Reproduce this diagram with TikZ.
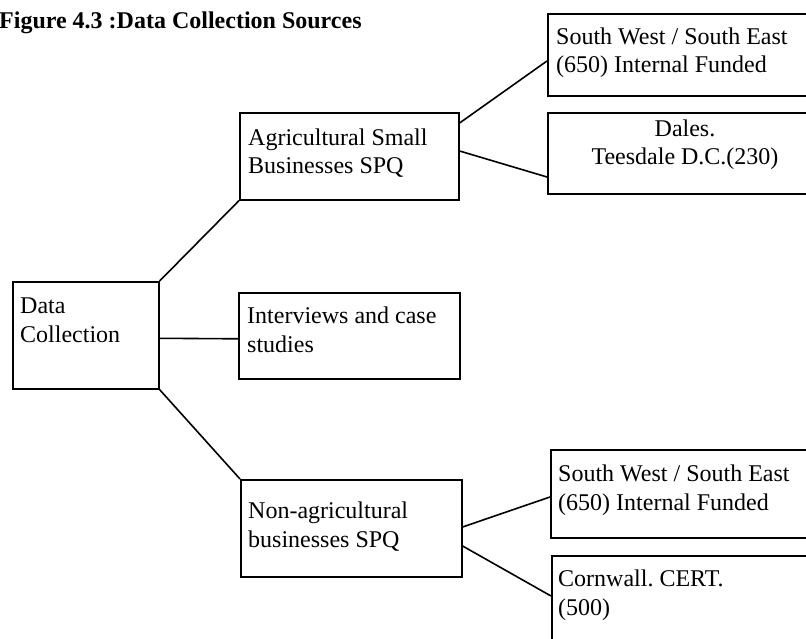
\documentclass[tikz,border=0pt]{standalone}
\usepackage{fontspec}
\setmainfont{Liberation Serif}
\frenchspacing
\begin{document}
\begin{tikzpicture}[x=1pt,y=-1pt,
  font=\fontsize{24}{28.5}\selectfont,
  box/.style={draw, line width=1.6pt, rectangle, inner sep=0pt, anchor=north west},
  lbl/.style={anchor=base west, inner sep=0pt, align=left},
  link/.style={line width=1.6pt}]
\useasboundingbox (0,0) rectangle (806,639);
\clip (0,0) rectangle (806,639);

% caption
\node[anchor=base west, inner sep=0pt, font=\fontsize{24}{28}\selectfont\bfseries]
  (title) at (-1,29) {Figure 4.3 :Data Collection Sources};

% boxes
\node[box, minimum width=146pt, minimum height=107pt] (dc)    at (12,281)  {};
\node[box, minimum width=219pt, minimum height=87pt]  (agri)  at (239,112) {};
\node[box, minimum width=221pt, minimum height=86pt]  (intv)  at (238,292) {};
\node[box, minimum width=221pt, minimum height=97pt]  (nonag) at (240,479) {};
\node[box, minimum width=270pt, minimum height=82pt]  (sw1)   at (547,13)  {};
\node[box, minimum width=270pt, minimum height=81pt]  (dales) at (547,112) {};
\node[box, minimum width=270pt, minimum height=88pt]  (sw2)   at (550,449) {};
\node[box, minimum width=270pt, minimum height=100pt] (corn)  at (551,555) {};

% box texts (positioned by the baseline of their last line)
\node[lbl] (dct)    at (20,342)  {Data\\Collection};
\node[lbl] (agrit)  at (248,174) {Agricultural Small\\Businesses SPQ};
\node[lbl] (intvt)  at (247,352) {Interviews and case\\studies};
\node[lbl] (nonagt) at (248,547) {Non-agricultural\\businesses SPQ};
\node[lbl] (sw1t)   at (556,73)  {South West / South East\\(650) Internal Funded};
\node[anchor=base, inner sep=0pt, align=center] (dalest) at (685,165) {Dales.\\Teesdale D.C.(230)};
\node[lbl] (sw2t)   at (558,510) {South West / South East\\(650) Internal Funded};
\node[lbl] (cornt)  at (558,615) {Cornwall. CERT.\\(500)};

% connectors
\draw[link] (dc.north east) -- (agri.south west);
\draw[link] ([yshift=-3pt]dc.east) -- ([yshift=-3pt]intv.west);
\draw[link] (dc.south east) -- (nonag.north west);
\draw[link] ([yshift=-11pt]agri.north east) -- ([yshift=-48pt]sw1.north west);
\draw[link] ([yshift=-39pt]agri.north east) -- ([yshift=-65pt]dales.north west);
\draw[link] ([yshift=-48pt]nonag.north east) -- ([yshift=-48pt]sw2.north west);
\draw[link] ([yshift=-67pt]nonag.north east) -- ([yshift=-41pt]corn.north west);
\end{tikzpicture}
\end{document}
